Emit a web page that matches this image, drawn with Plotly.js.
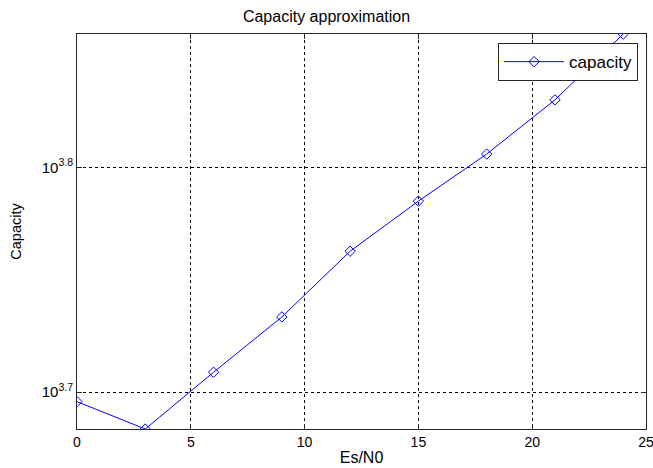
<!DOCTYPE html>
<html>
<head>
<meta charset="utf-8">
<script src="https://cdn.plot.ly/plotly-3.0.1.min.js"></script>
<style>html,body{margin:0;padding:0;background:#fff;}#chart{width:653px;height:468px;}</style>
</head>
<body>
<div id="chart"></div>
<script>
var esn0 = [0, 3, 6, 9, 12, 15, 18, 21, 24];
var capacity = [4963, 4826, 5115, 5413, 5790, 6095, 6396, 6761, 7233];
var xTicks = [0, 5, 10, 15, 20, 25];
var yTickVals = [Math.pow(10, 3.7), Math.pow(10, 3.8)];
var yTickText = ['10<sup>3.7</sup>', '10<sup>3.8</sup>'];

var fam = 'Liberation Sans, Arial, sans-serif';

var trace = {
  x: esn0, y: capacity, type: 'scatter', mode: 'lines+markers', name: 'capacity',
  line: {color: '#0000ff', width: 1},
  marker: {symbol: 'diamond-open', size: 8, color: '#0000ff', line: {width: 1, color: '#0000ff'}}
};

var lo = Math.log10(Math.min.apply(null, capacity));
var hi = Math.log10(Math.max.apply(null, capacity));

var layout = {
  width: 653, height: 468,
  margin: {l: 77, r: 7, t: 34, b: 39, pad: 0},
  paper_bgcolor: '#fff', plot_bgcolor: '#fff',
  title: {text: 'Capacity approximation', font: {family: fam, size: 16, color: '#000'}, x: 0.5, xanchor: 'center', y: 0.965, yanchor: 'middle'},
  xaxis: {
    range: [0, 25], tickvals: xTicks, ticktext: xTicks.map(String),
    showline: true, linecolor: '#262626', linewidth: 1, mirror: 'ticks',
    ticks: 'inside', ticklen: 5, tickcolor: '#262626', ticklabeloverflow: 'allow',
    showgrid: true, gridcolor: '#000', griddash: '3px,3px', gridwidth: 1,
    zeroline: false, tickfont: {family: fam, size: 14, color: '#000'},
    title: {text: 'Es/N0', font: {family: fam, size: 16, color: '#000'}, standoff: 3}
  },
  yaxis: {
    type: 'log', range: [lo, hi], tickvals: yTickVals, ticktext: yTickText,
    showline: true, linecolor: '#262626', linewidth: 1, mirror: 'ticks',
    ticks: 'inside', ticklen: 5, tickcolor: '#262626',
    showgrid: true, gridcolor: '#000', griddash: '3px,3px', gridwidth: 1,
    zeroline: false, tickfont: {family: fam, size: 15, color: '#000'},
    title: {text: 'Capacity', font: {family: fam, size: 14.5, color: '#000'}, standoff: 16}
  },
  showlegend: true,
  legend: {x: 0.74, y: 0.977, xanchor: 'left', yanchor: 'top', bgcolor: '#fff', bordercolor: '#262626', borderwidth: 1,
    itemwidth: 60, tracegroupgap: 0, font: {family: fam, size: 17, color: '#000'}}
};

Plotly.newPlot('chart', [trace], layout, {displayModeBar: false, staticPlot: true});
</script>
</body>
</html>
